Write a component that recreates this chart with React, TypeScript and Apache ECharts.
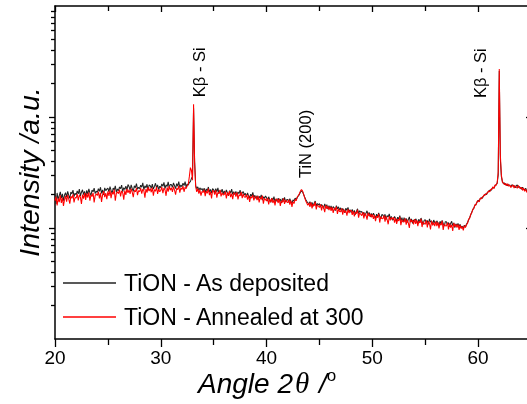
import React, { useEffect, useRef } from "react";
import * as echarts from "echarts";

// Sampling of the diffractograms: 20.0°, 20.1°, ... 64.9°
const ANGLE_START = 20.0;
const ANGLE_STEP = 0.1;

// TiON - As deposited (a.u.), 10 samples per degree (one row per degree, 20° .. 64°)
const AS_DEPOSITED = [
  200, 165, 207, 181, 195, 212, 186, 203, 176, 198,
  208, 190, 214, 197, 185, 211, 203, 219, 192, 206,
  199, 216, 203, 224, 195, 210, 221, 200, 214, 191,
  218, 202, 225, 207, 196, 220, 212, 229, 204, 215,
  209, 226, 214, 233, 205, 221, 199, 230, 217, 224,
  228, 212, 236, 218, 204, 229, 221, 240, 210, 225,
  217, 234, 226, 243, 212, 231, 222, 238, 219, 246,
  236, 220, 245, 227, 214, 240, 231, 251, 224, 233,
  226, 243, 233, 255, 221, 240, 230, 248, 218, 244,
  241, 228, 249, 224, 237, 253, 230, 245, 220, 238,
  231, 250, 237, 258, 226, 245, 236, 261, 229, 247,
  246, 232, 255, 240, 226, 251, 238, 262, 231, 244,
  236, 253, 241, 262, 232, 249, 244, 257, 262, 280,
  290, 1200, 400, 240, 226, 235, 218, 230, 221, 227,
  214, 229, 208, 225, 217, 234, 211, 223, 206, 226,
  221, 207, 226, 212, 230, 204, 218, 210, 224, 203,
  216, 203, 220, 208, 195, 217, 206, 224, 201, 212,
  200, 214, 198, 211, 204, 219, 196, 208, 213, 199,
  205, 191, 207, 195, 186, 202, 193, 209, 188, 197,
  184, 196, 180, 193, 187, 199, 178, 191, 185, 194,
  188, 175, 191, 180, 170, 186, 177, 192, 172, 183,
  173, 186, 176, 182, 168, 185, 174, 189, 171, 180,
  181, 170, 184, 173, 166, 179, 175, 186, 180, 188,
  194, 200, 210, 216, 212, 201, 190, 181, 174, 169,
  164, 173, 160, 170, 157, 167, 175, 158, 166, 161,
  166, 154, 163, 158, 150, 165, 156, 162, 148, 159,
  150, 158, 146, 156, 152, 143, 159, 149, 155, 145,
  152, 141, 150, 145, 137, 151, 144, 153, 140, 146,
  138, 147, 136, 144, 132, 141, 149, 135, 143, 139,
  141, 132, 139, 128, 136, 143, 130, 138, 126, 135,
  127, 136, 130, 122, 133, 125, 137, 128, 121, 132,
  131, 124, 133, 119, 129, 126, 134, 121, 127, 118,
  119, 127, 122, 114, 125, 120, 129, 116, 124, 113,
  124, 115, 122, 112, 119, 126, 113, 121, 110, 118,
  114, 121, 116, 109, 120, 112, 123, 115, 107, 117,
  119, 111, 117, 108, 121, 113, 116, 106, 118, 112,
  109, 116, 111, 105, 115, 108, 117, 110, 104, 114,
  114, 107, 112, 103, 110, 115, 105, 111, 101, 109,
  105, 110, 103, 108, 100, 104, 99, 106, 102, 108,
  112, 118, 124, 131, 139, 146, 152, 160, 164, 171,
  178, 174, 184, 188, 185, 194, 198, 203, 200, 210,
  214, 219, 216, 226, 232, 229, 240, 246, 252, 300,
  2600, 420, 290, 262, 250, 255, 244, 249, 240, 246,
  241, 235, 246, 238, 242, 230, 239, 244, 232, 236,
  230, 224, 233, 226, 219, 228, 215, 221, 211, 214,
];

// TiON - Annealed at 300 (a.u.)
const ANNEALED = [
  176, 192, 160, 185, 171, 197, 168, 188, 158, 180,
  195, 173, 199, 182, 166, 193, 185, 201, 170, 189,
  186, 203, 177, 198, 190, 165, 200, 184, 206, 179,
  205, 188, 210, 176, 199, 192, 208, 170, 196, 203,
  196, 213, 185, 207, 172, 200, 215, 190, 206, 182,
  214, 195, 219, 186, 210, 201, 222, 176, 205, 212,
  204, 222, 193, 216, 208, 180, 218, 199, 225, 207,
  221, 203, 226, 210, 190, 219, 212, 230, 198, 217,
  213, 229, 204, 224, 217, 188, 226, 208, 233, 215,
  227, 210, 231, 196, 222, 214, 235, 203, 224, 212,
  218, 234, 206, 229, 221, 195, 232, 213, 238, 219,
  231, 212, 236, 219, 200, 228, 222, 240, 208, 230,
  222, 238, 212, 233, 226, 240, 248, 290, 350, 330,
  270, 1300, 380, 235, 212, 226, 204, 220, 196, 214,
  209, 222, 194, 216, 205, 226, 198, 212, 185, 218,
  215, 200, 219, 188, 210, 204, 221, 193, 208, 198,
  200, 213, 185, 209, 196, 215, 190, 204, 182, 207,
  207, 192, 210, 181, 200, 195, 212, 186, 203, 190,
  189, 201, 180, 197, 172, 192, 186, 199, 177, 191,
  192, 178, 195, 170, 188, 182, 196, 166, 185, 180,
  175, 187, 163, 182, 171, 186, 168, 179, 160, 183,
  181, 168, 184, 158, 176, 170, 185, 165, 179, 172,
  169, 180, 162, 177, 155, 172, 166, 181, 176, 190,
  196, 204, 215, 222, 216, 203, 188, 176, 168, 160,
  168, 155, 170, 150, 164, 158, 172, 147, 162, 157,
  153, 163, 144, 160, 152, 139, 161, 149, 157, 145,
  155, 143, 154, 137, 150, 146, 156, 134, 149, 141,
  140, 150, 132, 147, 138, 143, 129, 148, 136, 144,
  144, 131, 142, 127, 139, 135, 146, 124, 137, 133,
  129, 139, 122, 136, 131, 119, 137, 128, 134, 125,
  133, 121, 131, 115, 128, 124, 134, 112, 127, 122,
  121, 130, 114, 127, 119, 108, 128, 117, 124, 120,
  125, 112, 123, 109, 120, 116, 126, 106, 119, 115,
  113, 122, 107, 119, 111, 100, 120, 114, 117, 108,
  120, 109, 118, 104, 115, 111, 121, 102, 114, 110,
  108, 117, 101, 115, 110, 97, 116, 106, 112, 104,
  115, 104, 113, 99, 110, 106, 116, 96, 109, 105,
  104, 112, 97, 110, 101, 107, 94, 111, 103, 108,
  101, 108, 96, 106, 99, 103, 95, 105, 101, 107,
  110, 120, 122, 133, 137, 148, 150, 162, 161, 173,
  176, 172, 186, 183, 190, 192, 201, 198, 206, 208,
  216, 212, 224, 222, 235, 227, 244, 242, 255, 320,
  2700, 460, 300, 258, 254, 246, 252, 240, 251, 238,
  244, 232, 238, 245, 229, 240, 234, 228, 242, 231,
  226, 233, 218, 229, 214, 224, 209, 219, 206, 212,
];

const SERIES_NAMES = ["TiON - As deposited", "TiON - Annealed at 300"];
const SERIES_COLORS = ["#222222", "#ff0000"];

const X_MIN = 20;
const X_MAX = 65;
const X_INTERVAL = 10;
const Y_MIN = 10;
const Y_MAX = 10000;
const Y_MAJOR = [100, 1000];
const Y_MINOR = [
  20, 30, 40, 50, 60, 70, 80, 90,
  200, 300, 400, 500, 600, 700, 800, 900,
  2000, 3000, 4000, 5000, 6000, 7000, 8000, 9000,
];

const PEAK_LABELS = [
  { text: "Kβ - Si", angle: 33.6, intensity: 1510 },
  { text: "TiN (200)", angle: 43.6, intensity: 282 },
  { text: "Kβ - Si", angle: 60.2, intensity: 1480 },
];

const FONT = "'Liberation Sans', Arial, sans-serif";

export default function App() {
  const ref = useRef<HTMLDivElement>(null);

  useEffect(() => {
    if (!ref.current) return;
    const chart = echarts.init(ref.current, null, { renderer: "svg" });

    const toPairs = (vals: number[]) =>
      vals.map((v, i) => [+(ANGLE_START + i * ANGLE_STEP).toFixed(2), v]);

    const gridBox = { left: 55, top: 6, width: 476, height: 333 };
    const axisLine = { show: true, lineStyle: { color: "#000", width: 1.5 } };
    const tickLine = { color: "#000", width: 1.3 };

    const option: any = {
      animation: false,
      grid: [
        { ...gridBox, containLabel: false },
        { ...gridBox, containLabel: false },
      ],
      legend: {
        data: SERIES_NAMES,
        orient: "vertical",
        left: 58,
        top: 265,
        icon: "rect",
        itemWidth: 53,
        itemHeight: 1.3,
        itemGap: 8,
        textStyle: {
          fontSize: 23,
          fontFamily: FONT,
          color: "#000",
          lineHeight: 26,
          padding: [0, 0, 0, 3],
        },
      },
      xAxis: [
        {
          type: "value",
          gridIndex: 0,
          position: "bottom",
          min: X_MIN,
          max: X_MAX,
          interval: X_INTERVAL,
          axisLine,
          axisTick: { show: true, inside: false, length: 8, lineStyle: tickLine },
          minorTick: { show: true, splitNumber: 2, length: 6, lineStyle: tickLine },
          axisLabel: {
            show: true,
            color: "#000",
            fontSize: 19,
            fontFamily: FONT,
            margin: 9,
            showMaxLabel: false,
          },
          splitLine: { show: false },
          minorSplitLine: { show: false },
        },
        {
          type: "value",
          gridIndex: 0,
          position: "top",
          min: X_MIN,
          max: X_MAX,
          interval: X_INTERVAL,
          axisLine,
          axisTick: { show: true, inside: true, length: 6, lineStyle: tickLine },
          minorTick: { show: true, splitNumber: 2, length: 5, lineStyle: tickLine },
          axisLabel: { show: false },
          splitLine: { show: false },
          minorSplitLine: { show: false },
        },
        {
          type: "value",
          gridIndex: 1,
          min: X_MIN,
          max: X_MAX,
          show: false,
        },
      ],
      yAxis: [
        {
          type: "log",
          logBase: 10,
          gridIndex: 0,
          position: "left",
          min: Y_MIN,
          max: Y_MAX,
          axisLine,
          axisTick: { show: true, inside: false, length: 4, customValues: Y_MINOR, lineStyle: tickLine },
          axisLabel: { show: false },
          splitLine: { show: false },
        },
        {
          type: "log",
          logBase: 10,
          gridIndex: 0,
          position: "right",
          min: Y_MIN,
          max: Y_MAX,
          axisLine,
          axisTick: { show: true, inside: true, length: 5, customValues: Y_MAJOR, lineStyle: tickLine },
          axisLabel: { show: false },
          splitLine: { show: false },
        },
        {
          type: "log",
          logBase: 10,
          gridIndex: 1,
          position: "left",
          min: Y_MIN,
          max: Y_MAX,
          axisLine: { show: false },
          axisTick: { show: true, inside: false, length: 6, customValues: Y_MAJOR, lineStyle: tickLine },
          axisLabel: { show: false },
          splitLine: { show: false },
        },
      ],
      series: [AS_DEPOSITED, ANNEALED].map((vals, i) => ({
        name: SERIES_NAMES[i],
        type: "line",
        xAxisIndex: 0,
        yAxisIndex: 0,
        data: toPairs(vals),
        showSymbol: false,
        symbol: "none",
        clip: true,
        color: SERIES_COLORS[i],
        lineStyle: { color: SERIES_COLORS[i], width: 1.05 },
      })),
    };

    chart.setOption(option);

    const peakTexts = PEAK_LABELS.map((p) => {
      const pt = chart.convertToPixel({ xAxisIndex: 0, yAxisIndex: 0 }, [p.angle, p.intensity]) as number[];
      return {
        type: "text",
        x: pt[0],
        y: pt[1],
        rotation: Math.PI / 2,
        style: {
          text: p.text,
          fontSize: 16.5,
          fontFamily: FONT,
          fill: "#000",
          align: "left",
          verticalAlign: "middle",
        },
      };
    });

    chart.setOption({
      graphic: [
        {
          type: "text",
          x: 29,
          y: 172,
          rotation: Math.PI / 2,
          style: {
            text: "Intensity /a.u.",
            fontSize: 28.5,
            fontStyle: "italic",
            fontFamily: FONT,
            fill: "#000",
            align: "center",
            verticalAlign: "middle",
          },
        },
        {
          type: "text",
          x: 198,
          y: 383,
          style: {
            text: "{a|Angle 2}{t|θ}{a| /}{s|o}",
            fill: "#000",
            align: "left",
            verticalAlign: "middle",
            rich: {
              a: { fontSize: 28, fontStyle: "italic", fontFamily: FONT, fill: "#000", lineHeight: 32 },
              t: { fontSize: 29, fontStyle: "italic", fontFamily: "'Liberation Serif', 'DejaVu Serif', serif", fill: "#000", lineHeight: 32, padding: [0, 2, 0, 2] },
              s: { fontSize: 17, fontFamily: FONT, fill: "#000", lineHeight: 32, verticalAlign: "top", padding: [0, 0, 9, 0] },
            },
          },
        },
        ...peakTexts,
      ],
    });

    return () => chart.dispose();
  }, []);

  return (
    <div
      ref={ref}
      style={{ position: "fixed", left: 0, top: 0, width: 540, height: 404 }}
    />
  );
}
